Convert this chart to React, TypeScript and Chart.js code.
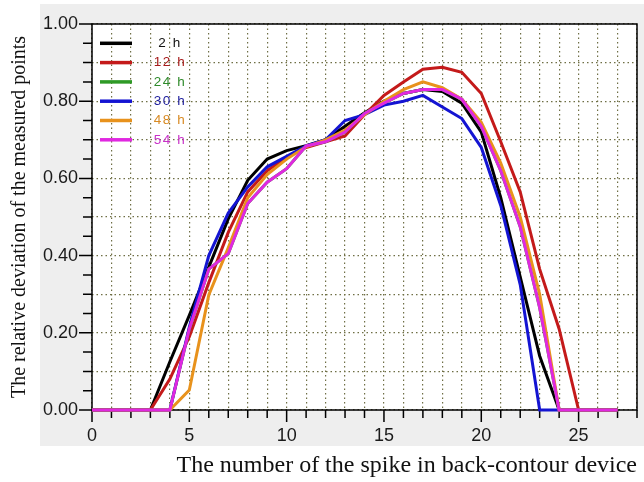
import { useEffect, useRef } from "react";
import { Chart, registerables } from "chart.js";

Chart.register(...registerables);

// ---- data ----
const spikes = [0, 1, 2, 3, 4, 5, 6, 7, 8, 9, 10, 11, 12, 13, 14, 15, 16, 17, 18, 19, 20, 21, 22, 23, 24, 25, 26, 27];

const seriesLabels = ["2 h", "12 h", "24 h", "30 h", "48 h", "54 h"];

const h2 = [0, 0, 0, 0, 0.125, 0.245, 0.37, 0.495, 0.595, 0.65, 0.672, 0.685, 0.7, 0.735, 0.77, 0.8, 0.82, 0.83, 0.825, 0.795, 0.72, 0.55, 0.345, 0.14, 0, 0, 0, 0];
const h12 = [0, 0, 0, 0, 0.08, 0.19, 0.33, 0.46, 0.565, 0.62, 0.655, 0.68, 0.695, 0.71, 0.765, 0.815, 0.85, 0.883, 0.888, 0.875, 0.82, 0.695, 0.565, 0.365, 0.21, 0, 0, 0];
const h24 = [0, 0, 0, 0, 0, 0.21, 0.365, 0.405, 0.535, 0.59, 0.625, 0.684, 0.695, 0.72, 0.768, 0.795, 0.82, 0.83, 0.83, 0.805, 0.735, 0.62, 0.475, 0.265, 0, 0, 0, 0];
const h30 = [0, 0, 0, 0, 0, 0.215, 0.4, 0.51, 0.578, 0.63, 0.657, 0.684, 0.7, 0.75, 0.765, 0.79, 0.8, 0.815, 0.785, 0.755, 0.68, 0.53, 0.325, 0, 0, 0, 0, 0];
const h48 = [0, 0, 0, 0, 0, 0.052, 0.298, 0.42, 0.55, 0.61, 0.65, 0.682, 0.7, 0.725, 0.765, 0.8, 0.83, 0.85, 0.835, 0.805, 0.745, 0.64, 0.5, 0.3, 0, 0, 0, 0];
const h54 = [0, 0, 0, 0, 0, 0.21, 0.365, 0.405, 0.535, 0.59, 0.625, 0.684, 0.695, 0.72, 0.768, 0.795, 0.82, 0.83, 0.83, 0.805, 0.735, 0.62, 0.475, 0.265, 0, 0, 0, 0];

const xTickLabels = [0, 5, 10, 15, 20, 25];
const yTickLabels = [0, 0.2, 0.4, 0.6, 0.8, 1.0];

const lineColors = ["#000000", "#c41a1a", "#2e9a26", "#1414d2", "#e8921c", "#e028e0"];
const textColors = ["#111111", "#a61a1a", "#2e8a2a", "#1c1c9c", "#d88a22", "#c832c8"];

const allSeries = [h2, h12, h24, h30, h48, h54];

const panelPlugin = {
  id: "panelPlugin",
  beforeDraw(chart: any) {
    const { ctx, chartArea: a, width, height } = chart;
    ctx.save();
    ctx.fillStyle = "#ffffff";
    ctx.fillRect(0, 0, width, height);
    ctx.fillStyle = "#eeeeee";
    ctx.fillRect(40, 4, width - 40, 442);
    ctx.fillStyle = "#ffffff";
    ctx.fillRect(a.left, a.top, a.right - a.left, a.bottom - a.top);
    ctx.restore();
  },
  beforeDatasetsDraw(chart: any) {
    const { ctx, chartArea: a, scales } = chart;
    const xs = scales.x;
    const ys = scales.y;
    ctx.save();
    ctx.strokeStyle = "#000000";
    ctx.lineWidth = 1.5;
    ctx.setLineDash([]);
    ctx.strokeRect(a.left, a.top, a.right - a.left, a.bottom - a.top);
    ctx.beginPath();
    for (let i = xs.min; i <= xs.max; i++) {
      const px = xs.getPixelForValue(i);
      const len = i % 5 === 0 ? 12 : 8;
      ctx.moveTo(px, a.bottom);
      ctx.lineTo(px, a.bottom + len);
    }
    for (let k = 0; k <= 20; k++) {
      const py = ys.getPixelForValue(k * 0.05);
      const len = k % 4 === 0 ? 13 : 9;
      ctx.moveTo(a.left - len, py);
      ctx.lineTo(a.left, py);
    }
    ctx.stroke();
    ctx.restore();
  },
  afterDatasetsDraw(chart: any) {
    const { ctx, chartArea: a } = chart;
    ctx.save();
    chart.data.datasets.forEach((ds: any, i: number) => {
      const y = a.top + 19.3 + i * 19.3;
      ctx.strokeStyle = ds.borderColor;
      ctx.lineWidth = 3.5;
      ctx.beginPath();
      ctx.moveTo(a.left + 8, y);
      ctx.lineTo(a.left + 40, y);
      ctx.stroke();
      ctx.fillStyle = textColors[i];
      ctx.font = "13.5px 'Liberation Sans', Arial, sans-serif";
      try {
        (ctx as any).letterSpacing = "1.5px";
      } catch (e) {}
      ctx.textAlign = "center";
      ctx.textBaseline = "middle";
      ctx.fillText(ds.label, a.left + 78, y);
    });
    ctx.restore();
  },
};

export default function App() {
  const ref = useRef<HTMLCanvasElement | null>(null);

  useEffect(() => {
    document.body.style.margin = "0";
    document.body.style.overflow = "hidden";
    const canvas = ref.current;
    if (!canvas) return;
    const datasets = allSeries.map((arr, i) => ({
      label: seriesLabels[i],
      data: spikes.map((s, j) => ({ x: s, y: arr[j] })),
      borderColor: lineColors[i],
      backgroundColor: lineColors[i],
      borderWidth: 3,
      pointRadius: 0,
      tension: 0,
      fill: false,
      clip: false as any,
      order: allSeries.length - 1 - i,
    }));

    const chart = new Chart(canvas, {
      type: "line",
      data: { datasets },
      plugins: [panelPlugin],
      options: {
        animation: false,
        responsive: false,
        devicePixelRatio: 1,
        layout: { padding: { top: 24, right: 7, left: 0, bottom: 0 } },
        plugins: {
          legend: { display: false },
          tooltip: { enabled: false },
        },
        scales: {
          x: {
            type: "linear",
            min: 0,
            max: 28,
            afterFit: (scale: any) => {
              scale.height = 72;
            },
            ticks: {
              stepSize: 1,
              autoSkip: false,
              maxRotation: 0,
              padding: 5,
              color: "#1a1a1a",
              font: { family: "'Liberation Sans', Arial, sans-serif", size: 18 },
              callback: (v: any) => (xTickLabels.includes(Number(v)) ? String(v) : ""),
            },
            grid: {
              color: "#6f6f45",
              lineWidth: 1.2,
              drawTicks: true,
              tickLength: 10,
              tickColor: "rgba(0,0,0,0)",
            },
            border: { display: false, dash: [1.5, 3] },
            title: {
              display: true,
              text: "The number of the spike in back-contour device",
              align: "end",
              color: "#111111",
              font: { family: "'Liberation Serif', 'Times New Roman', serif", size: 24 },
              padding: { top: 0, bottom: 2 },
            },
          },
          y: {
            min: 0,
            max: 1,
            afterFit: (scale: any) => {
              scale.width = 92;
            },
            ticks: {
              stepSize: 0.1,
              autoSkip: false,
              padding: 6,
              color: "#1a1a1a",
              font: { family: "'Liberation Sans', Arial, sans-serif", size: 18 },
              callback: (v: any) => {
                const n = Number(v);
                const hit = yTickLabels.find((t) => Math.abs(t - n) < 1e-6);
                return hit !== undefined ? hit.toFixed(2) : "";
              },
            },
            grid: {
              color: "#6f6f45",
              lineWidth: 1.2,
              drawTicks: true,
              tickLength: 8,
              tickColor: "rgba(0,0,0,0)",
            },
            border: { display: false, dash: [1.5, 3] },
            title: {
              display: true,
              text: "The relative deviation of the measured points",
              color: "#111111",
              font: { family: "'Liberation Serif', 'Times New Roman', serif", size: 20 },
              padding: { top: 8, bottom: 0 },
            },
          },
        },
      } as any,
    });
    return () => chart.destroy();
  }, []);

  return (
    <div style={{ width: 644, height: 482 }}>
      <canvas ref={ref} width={644} height={482} style={{ display: "block", width: 644, height: 482 }} />
    </div>
  );
}
